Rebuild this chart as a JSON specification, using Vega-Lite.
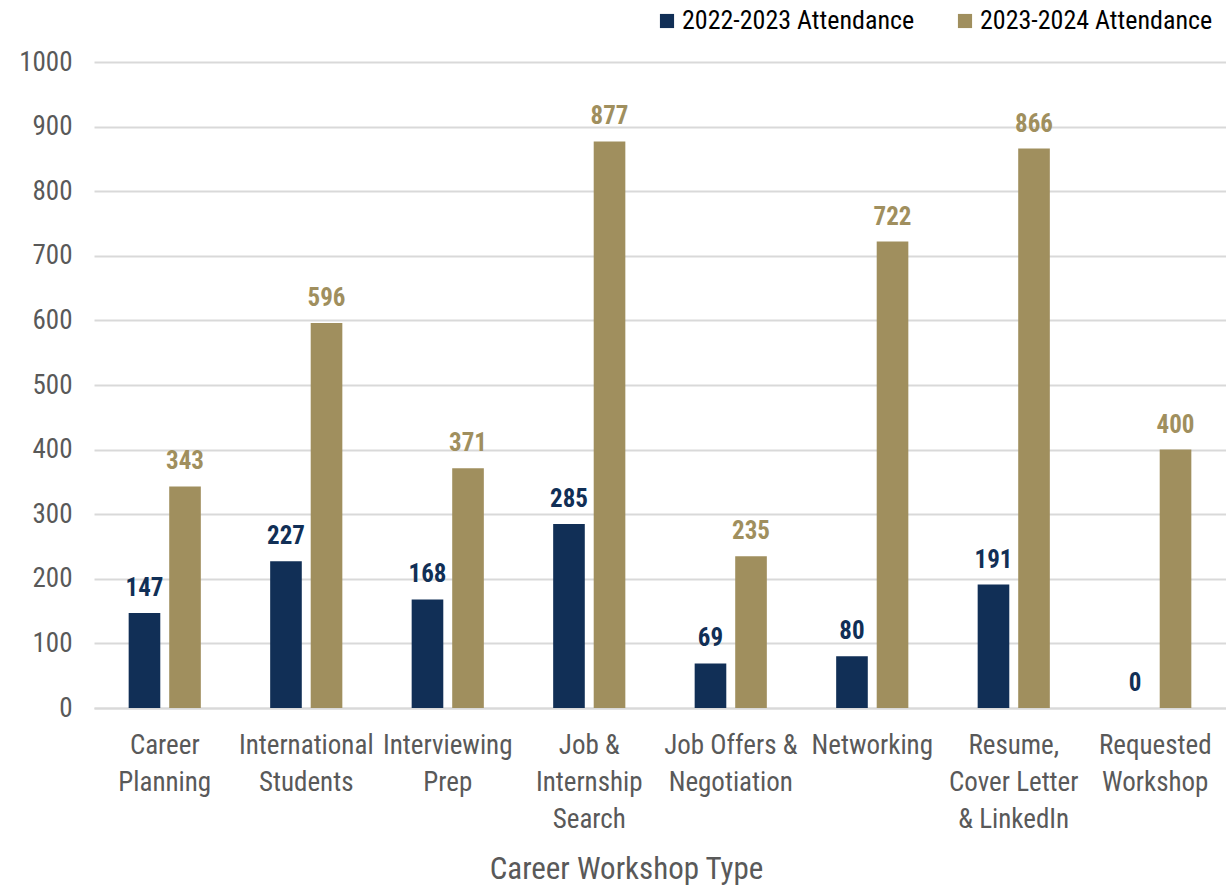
{
  "$schema": "https://vega.github.io/schema/vega-lite/v6.json",
  "autosize": "none",
  "width": 1132,
  "height": 646,
  "padding": {"left": 94, "top": 62, "right": 0, "bottom": 180},
  "background": "white",
  "config": {
    "font": "Roboto Condensed, Liberation Sans Narrow, DejaVu Sans Condensed, Roboto",
    "view": {"stroke": null}
  },
  "data": {
    "values": [
      {"workshop": "Career Planning", "year": "2022-2023 Attendance", "attendance": 147},
      {"workshop": "Career Planning", "year": "2023-2024 Attendance", "attendance": 343},
      {"workshop": "International Students", "year": "2022-2023 Attendance", "attendance": 227},
      {"workshop": "International Students", "year": "2023-2024 Attendance", "attendance": 596},
      {"workshop": "Interviewing Prep", "year": "2022-2023 Attendance", "attendance": 168},
      {"workshop": "Interviewing Prep", "year": "2023-2024 Attendance", "attendance": 371},
      {"workshop": "Job & Internship Search", "year": "2022-2023 Attendance", "attendance": 285},
      {"workshop": "Job & Internship Search", "year": "2023-2024 Attendance", "attendance": 877},
      {"workshop": "Job Offers & Negotiation", "year": "2022-2023 Attendance", "attendance": 69},
      {"workshop": "Job Offers & Negotiation", "year": "2023-2024 Attendance", "attendance": 235},
      {"workshop": "Networking", "year": "2022-2023 Attendance", "attendance": 80},
      {"workshop": "Networking", "year": "2023-2024 Attendance", "attendance": 722},
      {"workshop": "Resume, Cover Letter & LinkedIn", "year": "2022-2023 Attendance", "attendance": 191},
      {"workshop": "Resume, Cover Letter & LinkedIn", "year": "2023-2024 Attendance", "attendance": 866},
      {"workshop": "Requested Workshop", "year": "2022-2023 Attendance", "attendance": 0},
      {"workshop": "Requested Workshop", "year": "2023-2024 Attendance", "attendance": 400}
    ]
  },
  "encoding": {
    "x": {
      "field": "workshop",
      "type": "nominal",
      "sort": null,
      "title": "Career Workshop Type",
      "scale": {"paddingInner": 0.49, "paddingOuter": 0.245},
      "axis": {
        "labelAngle": 0,
        "labelFontSize": 27,
        "labelColor": "#595959",
        "labelLineHeight": 37,
        "labelPadding": 24,
        "labelExpr": "({'Career Planning': ['Career', 'Planning'], 'International Students': ['International', 'Students'], 'Interviewing Prep': ['Interviewing', 'Prep'], 'Job & Internship Search': ['Job &', 'Internship', 'Search'], 'Job Offers & Negotiation': ['Job Offers &', 'Negotiation'], 'Networking': ['Networking'], 'Resume, Cover Letter & LinkedIn': ['Resume,', 'Cover Letter', '& LinkedIn'], 'Requested Workshop': ['Requested', 'Workshop']})[datum.label]",
        "ticks": false,
        "domainColor": "#D9D9D9",
        "domainWidth": 2,
        "titleFontSize": 31,
        "titleFontWeight": "normal",
        "titleColor": "#595959",
        "titlePadding": 22,
        "titleX": 532
      }
    },
    "xOffset": {
      "field": "year",
      "type": "nominal",
      "scale": {"paddingInner": 0.22}
    },
    "y": {
      "field": "attendance",
      "type": "quantitative",
      "scale": {"domain": [0, 1000]},
      "axis": {
        "title": null,
        "values": [0, 100, 200, 300, 400, 500, 600, 700, 800, 900, 1000],
        "format": "d",
        "labelFontSize": 27,
        "labelColor": "#595959",
        "labelPadding": 22,
        "ticks": false,
        "domain": false,
        "gridColor": "#D9D9D9",
        "gridWidth": 2
      }
    },
    "color": {
      "field": "year",
      "type": "nominal",
      "scale": {
        "domain": ["2022-2023 Attendance", "2023-2024 Attendance"],
        "range": ["#112F56", "#A08F5E"]
      }
    }
  },
  "layer": [
    {
      "mark": {"type": "bar"},
      "encoding": {
        "color": {
          "field": "year",
          "type": "nominal",
          "legend": {
            "orient": "none",
            "direction": "horizontal",
            "legendX": 560,
            "legendY": -54,
            "title": null,
            "symbolType": "square",
            "symbolSize": 200,
            "symbolStrokeWidth": 0,
            "labelFontSize": 26,
            "labelLimit": 0,
            "labelColor": "#000000",
            "columnPadding": 37,
            "labelOffset": 2
          }
        }
      }
    },
    {
      "mark": {
        "type": "text",
        "baseline": "bottom",
        "dy": -12,
        "fontSize": 25,
        "fontWeight": "bold"
      },
      "encoding": {
        "text": {"field": "attendance", "type": "quantitative"}
      }
    }
  ]
}
